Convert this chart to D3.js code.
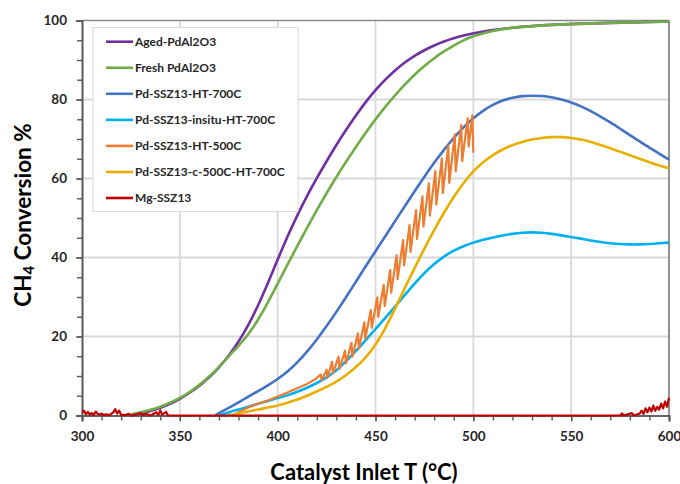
<!DOCTYPE html>
<html>
<head>
<meta charset="utf-8">
<script src="https://cdn.jsdelivr.net/npm/d3@7"></script>
<style>
  html, body { margin: 0; padding: 0; background: #fff; }
  svg { display: block; font-family: Lato, "Open Sans", sans-serif; }
</style>
</head>
<body>
<svg id="chart" width="680" height="484"></svg>
<script>
// Methane light-off curves: CH4 conversion (%) vs catalyst inlet temperature (°C)

const seriesNames = [
  "Aged-PdAl2O3",
  "Fresh PdAl2O3",
  "Pd-SSZ13-HT-700C",
  "Pd-SSZ13-insitu-HT-700C",
  "Pd-SSZ13-HT-500C",
  "Pd-SSZ13-c-500C-HT-700C",
  "Mg-SSZ13"
];
const seriesColors = ["#7030A0", "#70AD47", "#4472C4", "#00B0F0", "#ED7D31", "#E8AE00", "#C00000"];

const xTicks = [300, 350, 400, 450, 500, 550, 600];
const yTicks = [0, 20, 40, 60, 80, 100];

// [temperature, conversion] pairs per catalyst
const agedPdAl2O3 = [
  [325, 0], [330, 0.5], [335, 1.1], [340, 1.9], [345, 2.9], [350, 4.2], [355, 5.7], [360, 7.5],
  [365, 9.6], [370, 12.1], [375, 15.1], [380, 18.6], [385, 22.8], [390, 27.8], [395, 33.5],
  [400, 39.5], [405, 45.3], [410, 50.7], [415, 55.6], [420, 60.1], [425, 64.4], [430, 68.5],
  [435, 72.4], [440, 76], [445, 79.4], [450, 82.4], [455, 85.1], [460, 87.4], [465, 89.4],
  [470, 91.1], [475, 92.5], [480, 93.7], [485, 94.7], [490, 95.5], [495, 96.2], [500, 96.8],
  [510, 97.6], [520, 98.2], [530, 98.6], [540, 98.9], [550, 99.1], [575, 99.5], [600, 99.7]
];
const freshPdAl2O3 = [
  [325, 0.3], [330, 0.8], [335, 1.4], [340, 2.2], [345, 3.2], [350, 4.4], [355, 5.9], [360, 7.7],
  [365, 9.8], [370, 12.3], [375, 15], [380, 17.6], [385, 20.5], [390, 24.2], [395, 28.6],
  [400, 33.4], [405, 38.2], [410, 42.9], [415, 47.5], [420, 52], [425, 56.3], [430, 60.4],
  [435, 64.3], [440, 68], [445, 71.6], [450, 75], [455, 78.2], [460, 81.1], [465, 83.8],
  [470, 86.3], [475, 88.5], [480, 90.5], [485, 92.2], [490, 93.7], [495, 95], [500, 96.1],
  [510, 97.4], [520, 98.2], [530, 98.6], [540, 98.9], [550, 99.1], [575, 99.5], [600, 99.7]
];
const pdSSZ13HT700 = [
  [368, 0], [370, 0.6], [375, 1.9], [380, 3.3], [385, 4.8], [390, 6.2], [395, 7.6], [400, 9.2],
  [405, 11.1], [410, 13.4], [415, 16.1], [420, 19.2], [425, 22.6], [430, 26.2], [435, 30],
  [440, 33.9], [445, 37.8], [450, 41.6], [455, 45.4], [460, 49.2], [465, 53], [470, 56.8],
  [475, 60.5], [480, 64], [485, 67.3], [490, 70.3], [495, 73], [500, 75.3], [505, 77.2],
  [510, 78.7], [515, 79.8], [520, 80.5], [525, 80.9], [530, 81], [535, 80.9], [540, 80.6],
  [545, 80], [550, 79.3], [555, 78.3], [560, 77.1], [565, 75.7], [570, 74.2], [575, 72.6],
  [580, 71], [585, 69.4], [590, 67.8], [595, 66.3], [600, 64.8]
];
const pdSSZ13InsituHT700 = [
  [370, 0], [375, 0.8], [380, 1.5], [385, 2.2], [390, 3], [395, 3.7], [400, 4.4], [405, 5.1],
  [410, 6], [415, 7], [420, 8.2], [425, 9.6], [430, 11.4], [435, 13.7], [440, 16.3],
  [445, 19.1], [450, 21.9], [455, 24.7], [460, 27.6], [465, 30.5], [470, 33.4], [475, 36.1],
  [480, 38.4], [485, 40.3], [490, 41.8], [495, 42.9], [500, 43.8], [505, 44.5], [510, 45.1],
  [515, 45.6], [520, 46], [525, 46.3], [530, 46.4], [535, 46.3], [540, 46], [545, 45.6],
  [550, 45.2], [555, 44.8], [560, 44.3], [565, 43.9], [570, 43.6], [575, 43.4], [580, 43.3],
  [585, 43.3], [590, 43.4], [595, 43.6], [600, 43.8]
];
const pdSSZ13HT500 = [
  [377, 0], [380, 0.8], [385, 2], [390, 3], [395, 3.8], [400, 4.8], [405, 5.8], [410, 6.9],
  [415, 8], [419, 9.1], [422, 10.4], [422.5, 8.9], [425, 11.6], [425.5, 9.6], [427.8, 13.6],
  [428.3, 10.7], [431.1, 14.9],
  [431.6, 11.8], [434.4, 16.4], [434.9, 13.2], [437.7, 18.4], [438.2, 14.9], [441, 20.8],
  [441.5, 17], [444.3, 23.6], [444.8, 19.4], [447.6, 26.7], [448.1, 22.2], [450.9, 29.9],
  [451.4, 25], [454.2, 33.1], [454.7, 27.7], [457.5, 36.8], [458, 31.1], [460.8, 40.6],
  [461.3, 34.5], [464.1, 44.4], [464.6, 38], [467.4, 48.2], [467.9, 41.4], [470.7, 52],
  [471.2, 44.7], [474, 55.5], [474.5, 47.8], [477.3, 58.8], [477.8, 50.6], [480.6, 61.9],
  [481.1, 53.4], [483.9, 65.1], [484.4, 56.3], [487.2, 68.3], [487.7, 58.9], [490.5, 71.2],
  [491, 61.8], [493.8, 73.6], [494.3, 64.4], [497.1, 75.2], [497.6, 68.1], [499.5, 76],
  [500, 66.5]
];
const pdSSZ13c500HT700 = [
  [375, 0], [380, 0.5], [385, 1], [390, 1.5], [395, 2], [400, 2.5], [405, 3.2], [410, 4],
  [415, 5], [420, 6.1], [425, 7.2], [430, 8.5], [435, 10.2], [440, 12.2], [445, 14.6],
  [450, 17.8], [455, 22], [460, 27], [465, 32.3], [470, 37.4], [475, 42.3], [480, 47],
  [485, 51.4], [490, 55.4], [495, 58.9], [500, 61.9], [505, 64.2], [510, 66], [515, 67.4],
  [520, 68.5], [525, 69.3], [530, 69.9], [535, 70.3], [540, 70.5], [545, 70.5], [550, 70.3],
  [555, 69.9], [560, 69.3], [565, 68.5], [570, 67.7], [575, 66.8], [580, 65.9], [585, 65],
  [590, 64.1], [595, 63.3], [600, 62.6]
];
const mgSSZ13 = [
  [300, 0.8], [301, 1.2], [302, 0.3], [303, 0.9], [304, 0.2], [305, 0.6], [306, 0.1], [307, 1],
  [308, 0.4], [309, 0.2], [310, 0.5], [311, 0.1], [312, 0.3], [314, 0.1], [316, 0.8], [317, 1.6],
  [318, 0.5], [319, 1.2], [320, 0.2], [322, 0.1], [324, 0.4], [325, 0], [328, 0.3], [330, 0.6],
  [331, 0.1], [333, 0.4], [335, 0], [338, 0.8], [339, 0.1], [340, 1.3], [341, 0.2], [343, 0.9],
  [344, 0], [400, 0], [500, 0], [575, 0], [576, 0.5], [577, 0], [581, 0.6], [582, 0],
  [585, 0.5], [586, 1.2], [587, 0.4], [588, 1.8], [589, 0.8], [590, 2], [591, 1], [592, 2.5],
  [593, 1.2], [594, 2.2], [595, 1.5], [596, 3], [597, 1.8], [598, 3.5], [599, 2.2], [600, 4.5]
];

const seriesData = [agedPdAl2O3, freshPdAl2O3, pdSSZ13HT700, pdSSZ13InsituHT700,
                    pdSSZ13HT500, pdSSZ13c500HT700, mgSSZ13];
// traces with visible sawtooth noise are drawn point-to-point
const jagged = [false, false, false, false, true, false, true];

const svg = d3.select("#chart");
const plot = { left: 82, right: 669, top: 20.5, bottom: 415.5 };

const x = d3.scaleLinear().domain([300, 600]).range([plot.left, plot.right]);
const y = d3.scaleLinear().domain([0, 100]).range([plot.bottom, plot.top]);

// gridlines
const grid = svg.append("g");
grid.selectAll("line.v").data(xTicks.slice(1, -1)).join("line")
  .attr("x1", d => x(d)).attr("x2", d => x(d))
  .attr("y1", plot.top).attr("y2", plot.bottom)
  .attr("stroke", "#D9D9D9").attr("stroke-width", 1.8);
grid.selectAll("line.h").data(yTicks.slice(1, -1)).join("line")
  .attr("x1", plot.left).attr("x2", plot.right)
  .attr("y1", d => y(d)).attr("y2", d => y(d))
  .attr("stroke", "#D9D9D9").attr("stroke-width", 1.8);

// plot frame (top and right)
svg.append("line").attr("x1", plot.left).attr("x2", plot.right)
  .attr("y1", plot.top).attr("y2", plot.top).attr("stroke", "#8C8C8C").attr("stroke-width", 1.5);
svg.append("line").attr("x1", plot.right).attr("x2", plot.right)
  .attr("y1", plot.top).attr("y2", plot.bottom).attr("stroke", "#6E6E6E").attr("stroke-width", 1.5);

// axes: major ticks with labels, minor ticks without
const minorX = d3.range(300, 601, 10);
const minorY = d3.range(0, 101, 5);

const xAxisMinor = svg.append("g").attr("transform", `translate(0,${plot.bottom})`)
  .call(d3.axisBottom(x).tickValues(minorX).tickSize(5).tickFormat(""));
const xAxis = svg.append("g").attr("transform", `translate(0,${plot.bottom})`)
  .call(d3.axisBottom(x).tickValues(xTicks).tickSize(6).tickPadding(10).tickFormat(d3.format("d")));
const yAxisMinor = svg.append("g").attr("transform", `translate(${plot.left},0)`)
  .call(d3.axisLeft(y).tickValues(minorY).tickSize(5).tickFormat(""));
const yAxis = svg.append("g").attr("transform", `translate(${plot.left},0)`)
  .call(d3.axisLeft(y).tickValues(yTicks).tickSize(6).tickPadding(9).tickFormat(d3.format("d")));

[xAxisMinor, xAxis, yAxisMinor, yAxis].forEach(g => {
  g.select(".domain").attr("stroke", "#595959").attr("stroke-width", 1.6);
  g.selectAll(".tick line").attr("stroke", "#595959").attr("stroke-width", 1.4);
});
[xAxis, yAxis].forEach(g => {
  g.selectAll(".tick text")
    .attr("fill", "#262626")
    .style("font-size", "13.5px")
    .style("font-weight", "bold")
    .style("font-family", "Lato, sans-serif");
});

// curves
const lineGen = d3.line().x(d => x(d[0])).y(d => y(d[1]));
const curves = svg.append("g");
seriesData.forEach((data, i) => {
  curves.append("path")
    .datum(data)
    .attr("fill", "none")
    .attr("stroke", seriesColors[i])
    .attr("stroke-width", jagged[i] ? 2.2 : 2.6)
    .attr("stroke-linejoin", "round")
    .attr("d", lineGen.curve(jagged[i] ? d3.curveLinear : d3.curveBasis)(data));
});

// axis titles
svg.append("text")
  .attr("x", 364).attr("y", 480)
  .attr("text-anchor", "middle")
  .style("font-size", "22px").style("font-weight", "bold")
  .attr("fill", "#000")
  .text("Catalyst Inlet T (°C)");

const yTitle = svg.append("text")
  .attr("transform", "translate(31,215) rotate(-90)")
  .attr("text-anchor", "middle")
  .style("font-size", "22.5px").style("font-weight", "bold")
  .attr("fill", "#000");
yTitle.append("tspan").text("CH");
yTitle.append("tspan").attr("baseline-shift", "-22%").style("font-size", "15px").text("4");
yTitle.append("tspan").text(" Conversion %");

// legend
const legend = svg.append("g");
legend.append("rect")
  .attr("x", 93).attr("y", 27.5).attr("width", 205).attr("height", 184)
  .attr("fill", "#fff").attr("stroke", "#D9D9D9").attr("stroke-width", 1);
const rowY = d3.scaleLinear().domain([0, seriesNames.length - 1]).range([41.7, 198]);
seriesNames.forEach((name, i) => {
  const gy = rowY(i);
  legend.append("line")
    .attr("x1", 106).attr("x2", 133).attr("y1", gy).attr("y2", gy)
    .attr("stroke", seriesColors[i]).attr("stroke-width", 2.6);
  legend.append("text")
    .attr("x", 135).attr("y", gy).attr("dy", "0.35em")
    .style("font-size", "12px").style("font-weight", "bold")
    .attr("fill", "#262626")
    .text(name);
});
</script>
</body>
</html>
